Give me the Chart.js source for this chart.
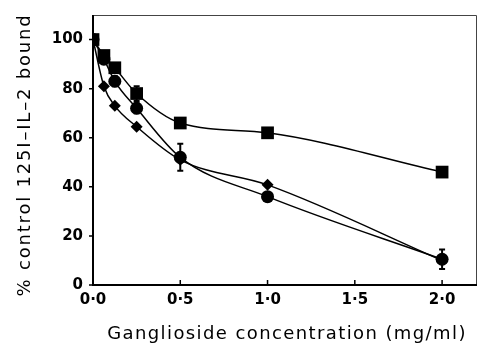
<!DOCTYPE html>
<html>
<head>
<meta charset="utf-8">
<script src="https://cdn.jsdelivr.net/npm/chart.js@4"></script>
<style>
    html, body { margin: 0; padding: 0; background: #fff; overflow: hidden; }
    #wrap { width: 478px; height: 347px; position: relative; }
</style>
</head>
<body>
<div id="wrap"><canvas id="myChart"></canvas></div>
<script>
// ganglioside concentration (mg/ml)
const concentrations = [0, 0.0625, 0.125, 0.25, 0.5, 1.0, 2.0];

// % control 125I-IL-2 bound
const squareValues = [100, 93.5, 88.5, 78, 66, 62, 46];
const circleValues = [100, 92, 83, 72, 52, 36, 10.5];
const diamondValues = [100, 81, 73, 64.5, 51, 40.8, 10];

// error bar half-heights
const squareErrors = [0, 0, 0, 3, 0, 1.5, 0];
const circleErrors = [0, 0, 2, 2, 5.5, 0, 4];

const xTicks = [0, 0.5, 1.0, 1.5, 2.0];
const yTicks = [0, 20, 40, 60, 80, 100];

const xTitle = 'Ganglioside concentration (mg/ml)';
const yTitle = '% control 125I\u2013IL\u20132 bound';

function toPoints(values) {
    return concentrations.map((c, i) => ({ x: c, y: values[i] }));
}

const framePlugin = {
    id: 'frame',
    beforeDatasetsDraw(chart) {
        const { ctx, chartArea: a, scales } = chart;
        ctx.save();
        // thin top and right
        ctx.lineWidth = 1;
        ctx.strokeStyle = '#444';
        ctx.beginPath();
        ctx.moveTo(a.left, a.top + 0.5);
        ctx.lineTo(a.right - 0.5, a.top + 0.5);
        ctx.lineTo(a.right - 0.5, a.bottom);
        ctx.stroke();
        // heavy left and bottom
        ctx.strokeStyle = '#000';
        ctx.lineWidth = 2;
        ctx.beginPath();
        ctx.moveTo(a.left, a.top);
        ctx.lineTo(a.left, a.bottom);
        ctx.lineTo(a.right, a.bottom);
        ctx.stroke();
        // y ticks outside, x ticks inside
        ctx.lineWidth = 1.5;
        ctx.beginPath();
        for (let v of yTicks) {
            const y = scales.y.getPixelForValue(v);
            ctx.moveTo(a.left - 4, y);
            ctx.lineTo(a.left, y);
        }
        for (let v of xTicks) {
            const x = scales.x.getPixelForValue(v);
            ctx.moveTo(x, a.bottom);
            ctx.lineTo(x, a.bottom - 5);
        }
        ctx.stroke();
        ctx.restore();
    },
    afterDatasetsDraw(chart) {
        const { ctx, scales } = chart;
        ctx.save();
        ctx.strokeStyle = '#000';
        ctx.lineWidth = 2;
        const bars = [[squareValues, squareErrors], [circleValues, circleErrors]];
        for (let [vals, errs] of bars) {
            concentrations.forEach((c, i) => {
                if (!errs[i]) return;
                const x = scales.x.getPixelForValue(c);
                const yTop = scales.y.getPixelForValue(vals[i] + errs[i]);
                const yBot = scales.y.getPixelForValue(vals[i] - errs[i]);
                ctx.beginPath();
                ctx.moveTo(x, yTop);
                ctx.lineTo(x, yBot);
                ctx.moveTo(x - 3, yTop);
                ctx.lineTo(x + 3, yTop);
                ctx.moveTo(x - 3, yBot);
                ctx.lineTo(x + 3, yBot);
                ctx.stroke();
            });
        }
        ctx.restore();
    },
    afterDraw(chart) {
        // axis titles, spaced out like the printed lettering
        const { ctx } = chart;
        ctx.save();
        ctx.fillStyle = '#000';
        ctx.textAlign = 'center';
        ctx.textBaseline = 'middle';
        ctx.font = '18px "DejaVu Sans"';
        ctx.letterSpacing = '1.4px';
        ctx.fillText(xTitle, 287, 334);
        ctx.translate(25, 155);
        ctx.rotate(-Math.PI / 2);
        ctx.letterSpacing = '1.8px';
        ctx.fillText(yTitle, 0, 0);
        ctx.restore();
    }
};

const ctx = document.getElementById('myChart').getContext('2d');

const lineStyle = {
    showLine: true,
    cubicInterpolationMode: 'monotone',
    borderColor: '#000',
    borderWidth: 1.5,
    pointBackgroundColor: '#000',
    pointBorderWidth: 0
};

const myChart = new Chart(ctx, {
    type: 'scatter',
    data: {
        datasets: [
            Object.assign({ label: 'diamonds', data: toPoints(diamondValues), pointStyle: 'rectRot', pointRadius: 6 }, lineStyle),
            Object.assign({ label: 'circles', data: toPoints(circleValues), pointStyle: 'circle', pointRadius: 6.5 }, lineStyle),
            Object.assign({ label: 'squares', data: toPoints(squareValues), pointStyle: 'rect', pointRadius: 9 }, lineStyle)
        ]
    },
    options: {
        responsive: true,
        maintainAspectRatio: false,
        animation: false,
        layout: { autoPadding: false, padding: { left: 0, right: 1, top: 15, bottom: 0 } },
        plugins: {
            legend: { display: false },
            tooltip: { enabled: false }
        },
        scales: {
            x: {
                type: 'linear',
                min: 0,
                max: 2.2,
                afterFit: (scale) => {
                    scale.height = 62;
                    scale.paddingLeft = 0;
                    scale.paddingRight = 0;
                },
                grid: { display: false, drawTicks: false },
                border: { display: false },
                afterBuildTicks: (scale) => { scale.ticks = xTicks.map(v => ({ value: v })); },
                ticks: {
                    padding: 6,
                    color: '#000',
                    font: { family: 'DejaVu Sans', size: 15, weight: 'bold' },
                    callback: (v) => v.toFixed(1).replace('.', '\u00b7')
                }
            },
            y: {
                min: 0,
                max: 110,
                afterFit: (scale) => {
                    scale.width = 93;
                    scale.paddingTop = 0;
                    scale.paddingBottom = 0;
                },
                grid: { display: false, drawTicks: false },
                border: { display: false },
                afterBuildTicks: (scale) => { scale.ticks = yTicks.map(v => ({ value: v })); },
                ticks: {
                    padding: 10,
                    color: '#000',
                    font: { family: 'DejaVu Sans', size: 15, weight: 'bold' }
                }
            }
        }
    },
    plugins: [framePlugin]
});
</script>
</body>
</html>
